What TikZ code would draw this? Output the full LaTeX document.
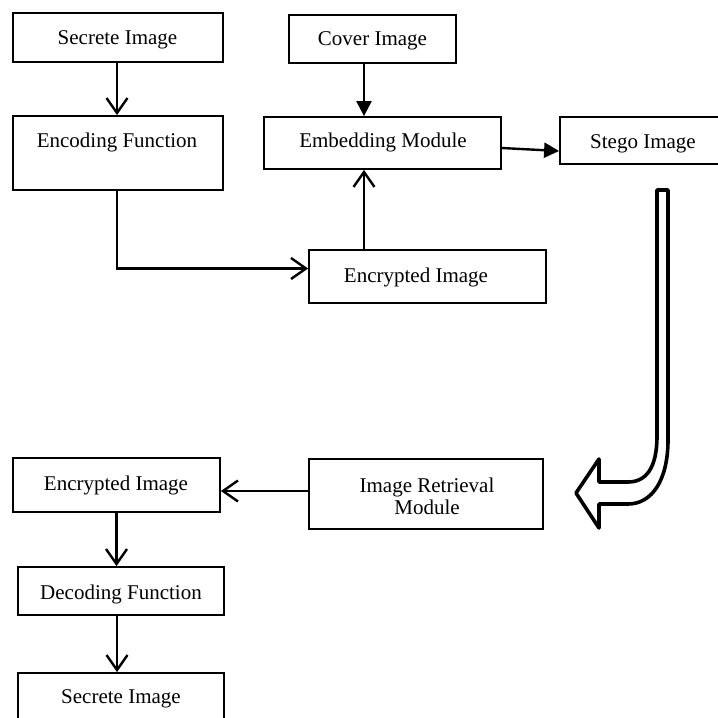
\documentclass[tikz,border=0pt]{standalone}
\usepackage{fontspec}
\setmainfont{Liberation Serif}
\usetikzlibrary{arrows.meta}
\begin{document}
\begin{tikzpicture}[x=1pt,y=-1pt,
  box/.style={draw, line width=1.8pt, inner sep=0pt},
  lbl/.style={inner sep=0pt, font=\fontsize{21}{22}\selectfont, align=center},
  open/.style={line width=2.4pt, -{Straight Barb[length=15pt,width=21pt]}},
  solid/.style={line width=2.4pt, -{Triangle[length=15pt,width=15pt]}},
  bigarrow/.style={draw, line width=3.6pt, line join=round}]
\useasboundingbox (0,0) rectangle (718,718);
\clip (0,0) rectangle (718,718);
% boxes
\node[box, minimum width=210pt, minimum height=49pt] (sec1) at (118,37.5) {};
\node[box, minimum width=210pt, minimum height=74pt] (enc) at (118,153) {};
\node[box, minimum width=167pt, minimum height=48pt] (cov) at (372.5,39) {};
\node[box, minimum width=237pt, minimum height=52pt] (emb) at (382.5,143) {};
\node[box, minimum width=166pt, minimum height=47pt] (stg) at (643,140.5) {};
\node[box, minimum width=237pt, minimum height=53pt] (encr1) at (427.5,276.5) {};
\node[box, minimum width=234pt, minimum height=70pt] (irm) at (426,494) {};
\node[box, minimum width=207pt, minimum height=54pt] (encr2) at (116.5,485) {};
\node[box, minimum width=206pt, minimum height=48pt] (dec) at (121,591) {};
\node[box, minimum width=206pt, minimum height=49pt] (sec2) at (121,697.5) {};
% texts
\node[lbl] (tsec1) at (117.5,40) {Secrete Image};
\node[lbl] (tenc) at (117,142) {Encoding Function};
\node[lbl] (tcov) at (372.5,41) {Cover Image};
\node[lbl] (temb) at (383,142) {Embedding Module};
\node[lbl] (tstg) at (643,144) {Stego Image};
\node[lbl] (tencr1) at (416,277) {Encrypted Image};
\node[lbl] (tirm) at (427,496) {Image Retrieval\\Module};
\node[lbl] (tencr2) at (116,485) {Encrypted Image};
\node[lbl] (tdec) at (121,594) {Decoding Function};
\node[lbl] (tsec2) at (121,699) {Secrete Image};
% connectors
\draw[open] ([xshift=-1pt]sec1.south) -- ([xshift=-1pt]enc.north);
\draw[solid] ([xshift=-8.5pt]cov.south) -- ([xshift=-8.5pt]cov.south |- emb.north);
\draw[open] ([xshift=-63.5pt]encr1.north) -- ([xshift=-63.5pt]encr1.north |- emb.south);
\draw[open] ([xshift=-1pt]enc.south) |- ([yshift=8pt]encr1.west);
\draw[solid] ([yshift=-5pt]emb.east) -- ([yshift=-10.5pt]stg.west);
\draw[open] ([yshift=3pt]irm.west) -- ([yshift=-6pt]encr2.east);
\draw[open] (encr2.south) -- (encr2.south |- dec.north);
\draw[open] ([xshift=-4pt]dec.south) -- ([xshift=-4pt]sec2.north);
% big curved block arrow
\path[bigarrow] (657,190) -- (668,190) -- (668,440)
  .. controls (668,480) and (652,504) .. (628,504)
  -- (599,504) -- (599,528) -- (576,493) -- (599,459) -- (599,482) -- (628,482)
  .. controls (646,482) and (657,468) .. (657,436) -- cycle;
\end{tikzpicture}
\end{document}
